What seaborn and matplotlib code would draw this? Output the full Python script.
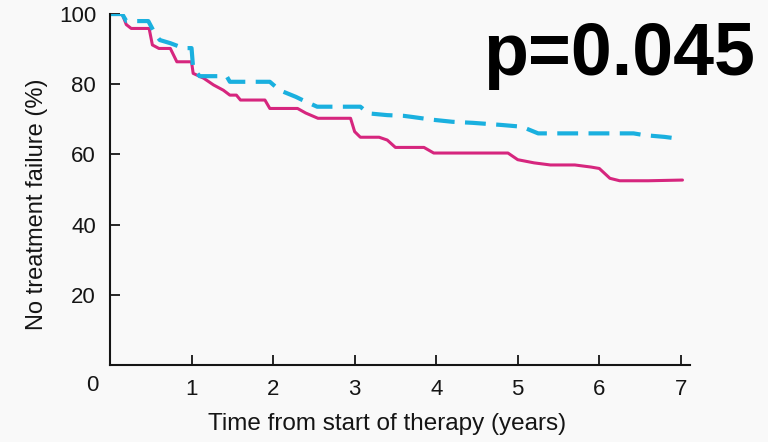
import pandas as pd
import seaborn as sns
import matplotlib.pyplot as plt

sns.set_style("ticks")
plt.rcParams['font.family'] = ['Liberation Sans', 'DejaVu Sans']
plt.rcParams['text.color'] = '#151515'
plt.rcParams['axes.labelcolor'] = '#151515'
plt.rcParams['xtick.color'] = '#151515'
plt.rcParams['ytick.color'] = '#151515'

# curve vertices (years, % with no treatment failure)
cyan_t = [0, 0.15, 0.20, 0.47, 0.55, 0.61, 0.74, 0.90, 1.00, 1.02, 1.10, 1.43, 1.47,
          1.96, 2.08, 2.28, 2.36, 2.54, 3.07, 3.17, 3.40, 3.60, 3.70, 3.95, 4.20,
          4.45, 4.80, 5.05, 5.25, 6.42, 6.55, 6.80, 7.00]
cyan_y = [100, 100, 98, 98, 94.5, 92.6, 91.7, 90.3, 90.3, 84.5, 82.3, 82.3, 80.7,
          80.7, 78.3, 76.4, 75.5, 73.6, 73.6, 71.7, 71.2, 71.0, 70.7, 69.9, 69.3,
          69.0, 68.4, 67.9, 66.0, 66.0, 65.5, 65.0, 64.4]

mag_t = [0, 0.15, 0.20, 0.26, 0.48, 0.52, 0.60, 0.74, 0.78, 0.82, 1.00, 1.02, 1.15,
         1.27, 1.39, 1.47, 1.55, 1.60, 1.90, 1.96, 2.30, 2.40, 2.55, 2.76, 2.95,
         3.00, 3.07, 3.30, 3.40, 3.50, 3.85, 3.97, 4.88, 5.00, 5.20, 5.40, 5.70,
         5.90, 6.00, 6.13, 6.25, 6.60, 7.02]
mag_y = [100, 100, 97.0, 95.9, 95.9, 91.2, 90.2, 90.2, 88.3, 86.4, 86.4, 83.1, 81.7,
         79.8, 78.3, 76.9, 76.9, 75.5, 75.5, 73.1, 73.1, 71.8, 70.3, 70.3, 70.3,
         66.5, 64.9, 64.9, 64.1, 62.0, 62.0, 60.4, 60.4, 58.5, 57.6, 57.0, 57.0,
         56.4, 56.0, 53.2, 52.5, 52.5, 52.7]

cyan = pd.DataFrame({'t': cyan_t, 'y': cyan_y})
mag = pd.DataFrame({'t': mag_t, 'y': mag_y})

fig = plt.figure(figsize=(7.68, 4.42), dpi=100, facecolor='#f9f9f9')
ax = fig.add_axes([0.1432, 0.1742, 0.755, 0.794])
ax.set_facecolor('#f9f9f9')

sns.lineplot(data=mag, x='t', y='y', sort=False, estimator=None, color='#d6267e',
             linewidth=2.2, ax=ax)
sns.lineplot(data=cyan, x='t', y='y', sort=False, estimator=None, color='#1ab0df',
             linewidth=3, ax=ax)
ax.lines[-1].set_dashes([5, 2.5])

ax.set_xlim(0, 7.11)
ax.set_ylim(0, 100)
ax.set_xticks([1, 2, 3, 4, 5, 6, 7])
ax.set_yticks([20, 40, 60, 80, 100])
ax.tick_params(direction='in', length=7, width=1.3, labelsize=16, pad=10)
sns.despine(ax=ax)
for s in ['left', 'bottom']:
    ax.spines[s].set_color('#151515')
    ax.spines[s].set_linewidth(1.5)

ax.text(-0.22, -5.7, '0', fontsize=16, ha='center', va='center')
ax.set_xlabel('Time from start of therapy (years)', fontsize=17.5)
ax.set_ylabel('No treatment failure (%)', fontsize=17)
ax.xaxis.set_label_coords(0.478, -0.138)
ax.yaxis.set_label_coords(-0.107, 0.457)

fig.text(0.983, 0.83, 'p=0.045', fontsize=53, fontweight='bold', ha='right',
         va='baseline', color='black')

fig.savefig('out.png', dpi=100, facecolor=fig.get_facecolor())
